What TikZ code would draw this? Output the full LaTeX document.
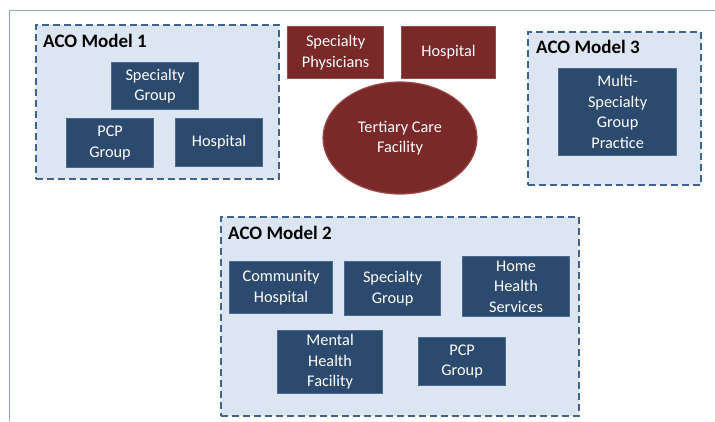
\documentclass[tikz,border=0pt]{standalone}
\usepackage{fontspec}
\setmainfont{Carlito}
\usetikzlibrary{shapes.geometric}
\definecolor{acofill}{HTML}{DCE6F2}
\definecolor{acoline}{HTML}{3E6390}
\definecolor{unitfill}{HTML}{2C4A6E}
\definecolor{unitline}{HTML}{4A6A92}
\definecolor{redfill}{HTML}{7A2828}
\definecolor{redline}{HTML}{9A4A4A}
\definecolor{frameline}{HTML}{8EA9CC}
\begin{document}
\begin{tikzpicture}[x=1pt,y=-1pt,
	acobox/.style={draw=acoline,fill=acofill,line width=1.6pt,dash pattern=on 7pt off 4pt,anchor=north west,inner sep=0pt},
	acohead/.style={anchor=west,inner sep=0pt,font=\fontsize{19}{22}\selectfont\bfseries},
	unit/.style={draw=unitline,fill=unitfill,line width=1.2pt,text=white,align=center,anchor=north west,inner sep=0pt,font=\fontsize{16.3}{20.5}\selectfont},
	redunit/.style={unit,draw=redline,fill=redfill}]
	\useasboundingbox (0,0) rectangle (715,421);
	\draw[frameline,line width=1.2pt] (9.5,421) -- (9.5,10.5) -- (715,10.5);
	% ACO Model 1
	\node[acobox,minimum width=243pt,minimum height=154pt] (m1) at (35,24) {};
	\node[acohead] (h1) at (43,41) {ACO Model 1};
	\node[unit,minimum width=87pt,minimum height=47pt] (sg1) at (111,62) {Specialty\\Group};
	\node[unit,minimum width=87pt,minimum height=49pt] (pcp1) at (66,118) {PCP\\Group};
	\node[unit,minimum width=87pt,minimum height=48pt] (hos1) at (175,118) {Hospital};
	% tertiary care
	\node[redunit,minimum width=96pt,minimum height=52pt] (spph) at (287,26) {Specialty\\Physicians};
	\node[redunit,minimum width=94pt,minimum height=52pt] (hosr) at (401,26) {Hospital};
	\node[redunit,ellipse,anchor=center,minimum width=154pt,minimum height=112pt] (tcf) at (400,138) {Tertiary Care\\Facility};
	% ACO Model 3
	\node[acobox,minimum width=173pt,minimum height=153pt] (m3) at (527,31) {};
	\node[acohead] (h3) at (536,47) {ACO Model 3};
	\node[unit,minimum width=118pt,minimum height=87pt] (msgp) at (558,68) {Multi-\\Specialty\\Group\\Practice};
	% ACO Model 2
	\node[acobox,minimum width=358pt,minimum height=199pt] (m2) at (220,216) {};
	\node[acohead] (h2) at (228,233) {ACO Model 2};
	\node[unit,minimum width=103pt,minimum height=52pt] (ch) at (229,261) {Community\\Hospital};
	\node[unit,minimum width=96pt,minimum height=54pt] (sg2) at (344,261) {Specialty\\Group};
	\node[unit,minimum width=107pt,minimum height=60pt] (hhs) at (462,256) {Home\\Health\\Services};
	\node[unit,minimum width=105pt,minimum height=63pt] (mhf) at (277,330) {Mental\\Health\\Facility};
	\node[unit,minimum width=87pt,minimum height=48pt] (pcp2) at (418,337) {PCP\\Group};
\end{tikzpicture}
\end{document}
